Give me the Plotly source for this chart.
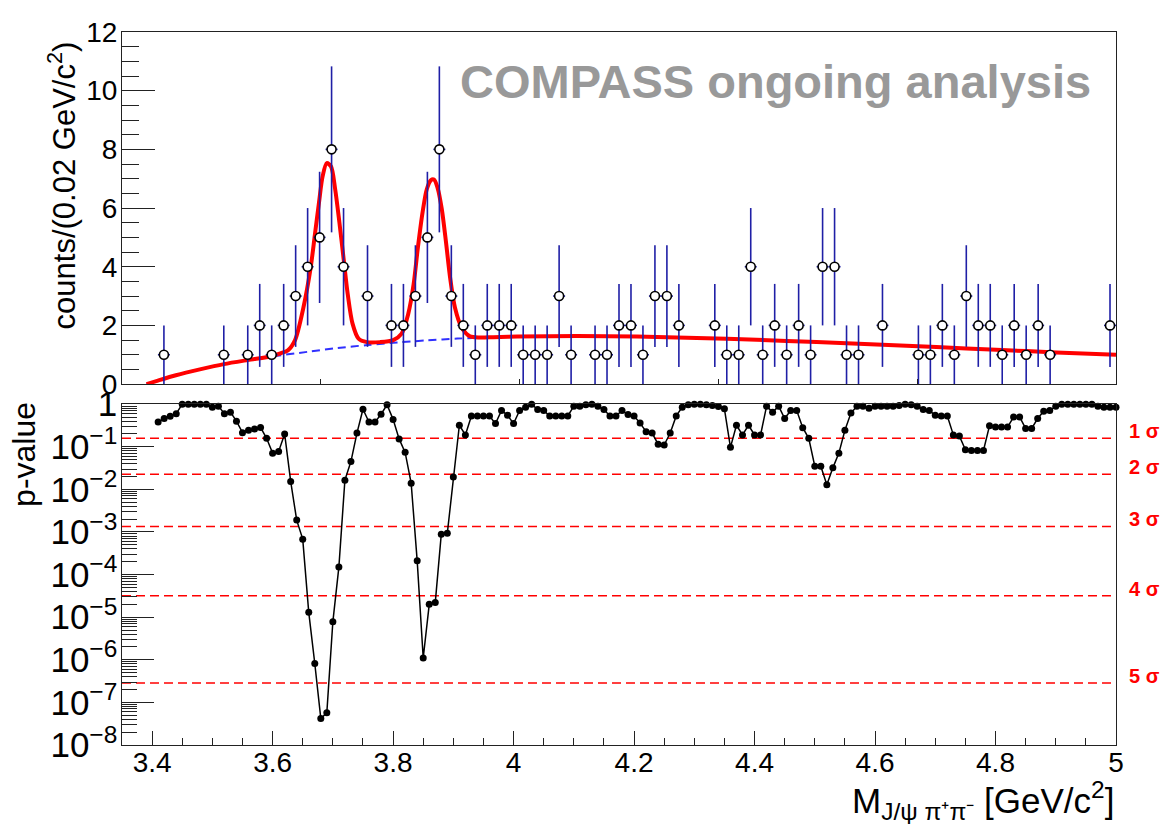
import numpy as np
import plotly.graph_objects as go

FONT = "Liberation Sans, Arial, Helvetica, sans-serif"

# ---------------- upper panel: J/psi pi+ pi- mass spectrum ----------------
# bin centres (0.02 GeV/c^2 bins, empty bins omitted) and event counts
mass_bins = [3.41, 3.51, 3.55, 3.57, 3.59, 3.61, 3.63, 3.65, 3.67, 3.69,
             3.71, 3.75, 3.79, 3.81, 3.83, 3.85, 3.87, 3.89, 3.91, 3.93,
             3.95, 3.97, 3.99, 4.01, 4.03, 4.05, 4.07, 4.09, 4.13, 4.15,
             4.17, 4.19, 4.21, 4.23, 4.25, 4.27, 4.33, 4.35, 4.37, 4.39,
             4.41, 4.43, 4.45, 4.47, 4.49, 4.51, 4.53, 4.55, 4.57, 4.61,
             4.67, 4.69, 4.71, 4.73, 4.75, 4.77, 4.79, 4.81, 4.83, 4.85,
             4.87, 4.89, 4.99]
counts = [1, 1, 1, 2, 1, 2, 3, 4, 5, 8,
          4, 3, 2, 2, 3, 5, 8, 3, 2, 1,
          2, 2, 2, 1, 1, 1, 3, 1, 1, 1,
          2, 2, 1, 3, 3, 2, 2, 1, 1, 4,
          1, 2, 1, 2, 1, 4, 4, 1, 1, 2,
          1, 1, 2, 1, 3, 2, 2, 1, 2, 1,
          2, 1, 2]
bin_half_width = 0.01

# full fit (background + two peaks)
fit_mass = [3.381, 3.40, 3.43, 3.47, 3.51, 3.55, 3.59, 3.605, 3.617, 3.629,
            3.643, 3.655, 3.662, 3.669, 3.675, 3.682, 3.689, 3.696, 3.703,
            3.710, 3.717, 3.725, 3.735, 3.749, 3.771, 3.793, 3.807, 3.818,
            3.827, 3.834, 3.842, 3.849, 3.856, 3.861, 3.867, 3.874, 3.881,
            3.888, 3.896, 3.907, 3.921, 3.938, 3.96, 4.0, 4.1, 4.2, 4.3,
            4.4, 4.5, 4.6, 4.7, 4.8, 4.9, 5.0]
fit_counts = [0.0, 0.12, 0.30, 0.50, 0.68, 0.82, 0.95, 1.05, 1.15, 1.50,
              2.61, 3.96, 5.07, 6.19, 7.08, 7.53, 7.42, 6.64, 5.52,
              4.29, 3.06, 2.06, 1.55, 1.43, 1.43, 1.50, 1.72, 2.39,
              3.40, 4.63, 5.86, 6.64, 6.95, 6.97, 6.69, 5.97, 4.85,
              3.62, 2.61, 1.94, 1.63, 1.59, 1.60, 1.62, 1.64, 1.62, 1.57,
              1.51, 1.43, 1.35, 1.26, 1.17, 1.08, 1.0]

# background component of the fit
bkg_mass = [3.381, 3.40, 3.43, 3.47, 3.51, 3.55, 3.59, 3.65, 3.70, 3.75,
            3.80, 3.85, 3.90, 3.95, 4.0, 4.1, 4.2, 4.3, 4.4, 4.5, 4.6,
            4.7, 4.8, 4.9, 5.0]
bkg_counts = [0.0, 0.12, 0.30, 0.50, 0.68, 0.82, 0.94, 1.10, 1.23, 1.33,
              1.42, 1.49, 1.55, 1.59, 1.62, 1.64, 1.62, 1.57, 1.51, 1.43,
              1.35, 1.26, 1.17, 1.08, 1.0]

# ---------------- lower panel: local p-value scan ----------------
scan_start, scan_step, n_scan = 3.41, 0.01, 160
scan_mass = np.round(scan_start + scan_step * np.arange(n_scan), 3)
p_values = [
    0.38, 0.46, 0.52, 0.60, 1.0, 1.0, 1.0, 1.0, 1.0, 0.85,
    0.90, 0.60, 0.65, 0.40, 0.215, 0.245, 0.26, 0.285, 0.158, 0.071,
    0.078, 0.20, 0.0154, 0.0019, 6.8e-4, 1.3e-5, 8.2e-7, 4.2e-8, 5.7e-8, 7.8e-6,
    1.5e-4, 0.0165, 0.045, 0.21, 0.76, 0.38, 0.38, 0.58, 0.97, 0.44,
    0.153, 0.074, 0.014, 2.1e-4, 1.1e-6, 2.0e-5, 2.2e-5, 8.9e-4, 9.3e-4, 0.0196,
    0.32, 0.19, 0.53, 0.53, 0.53, 0.53, 0.35, 0.71, 0.55, 0.35,
    0.71, 0.85, 1.0, 0.75, 0.71, 0.53, 0.53, 0.53, 0.53, 0.90,
    0.90, 0.97, 1.0, 0.90, 0.75, 0.53, 0.53, 0.71, 0.57, 0.53,
    0.36, 0.226, 0.21, 0.115, 0.11, 0.21, 0.53, 0.85, 0.97, 1.0,
    1.0, 0.97, 0.93, 0.88, 0.78, 0.097, 0.32, 0.19, 0.32, 0.19,
    0.19, 0.90, 0.65, 0.90, 0.46, 0.71, 0.71, 0.28, 0.158, 0.035,
    0.035, 0.0129, 0.032, 0.071, 0.245, 0.62, 0.90, 0.90, 0.80, 0.90,
    0.90, 0.90, 0.90, 0.93, 1.0, 0.97, 0.90, 0.75, 0.71, 0.55,
    0.53, 0.53, 0.19, 0.18, 0.085, 0.082, 0.082, 0.082, 0.31, 0.29,
    0.29, 0.29, 0.50, 0.50, 0.27, 0.27, 0.46, 0.68, 0.71, 0.90,
    1.0, 1.0, 1.0, 1.0, 1.0, 1.0, 0.90, 0.85, 0.85, 0.85,
]

# one-sided p-values of the significance levels
sigma_labels = ["1 σ", "2 σ", "3 σ", "4 σ", "5 σ"]
sigma_p = [0.158655, 0.0227501, 0.0013499, 3.16712e-5, 2.86652e-7]

top_range = [3.34, 5.0]
bottom_range = [3.35, 5.0]

fig = go.Figure()

# fit curves (drawn below the data markers)
fig.add_trace(go.Scatter(
    x=bkg_mass, y=bkg_counts, mode="lines", xaxis="x", yaxis="y",
    line=dict(color="#3030ff", width=2, dash="8px,5px", shape="spline", smoothing=0.8),
    hoverinfo="skip", showlegend=False))
fig.add_trace(go.Scatter(
    x=fit_mass, y=fit_counts, mode="lines", xaxis="x", yaxis="y",
    line=dict(color="#ff0000", width=4, shape="spline", smoothing=0.8),
    hoverinfo="skip", showlegend=False))

# data points with Poisson errors
fig.add_trace(go.Scatter(
    x=mass_bins, y=counts, mode="markers", xaxis="x", yaxis="y",
    marker=dict(symbol="circle", size=9, color="white",
                line=dict(color="black", width=1.6)),
    error_y=dict(type="data", array=np.sqrt(counts).tolist(),
                 color="#1f1fa6", thickness=1.6, width=0),
    error_x=dict(type="constant", value=bin_half_width,
                 color="#1f1fa6", thickness=1.6, width=0),
    cliponaxis=False, showlegend=False))

# significance reference lines
for p in sigma_p:
    fig.add_trace(go.Scatter(
        x=bottom_range, y=[p, p], mode="lines", xaxis="x2", yaxis="y2",
        line=dict(color="#ff0000", width=1.5, dash="9px,5px"),
        hoverinfo="skip", showlegend=False))

# p-value scan
fig.add_trace(go.Scatter(
    x=scan_mass, y=p_values, mode="lines+markers", xaxis="x2", yaxis="y2",
    line=dict(color="black", width=1.5),
    marker=dict(color="black", size=7),
    cliponaxis=False, showlegend=False))

axis_common = dict(showgrid=False, zeroline=False, showline=True, mirror=True,
                   linecolor="#222222", linewidth=1.2, ticks="inside",
                   tickcolor="#222222", tickfont=dict(family=FONT, size=28, color="black"))

top_ticks = [top_range[0] + (top_range[1] - top_range[0]) * k / 5 for k in range(1, 5)]

fig.update_layout(
    width=1165, height=824,
    margin=dict(l=122, r=49, t=20, b=79),
    paper_bgcolor="white", plot_bgcolor="white",
    font=dict(family=FONT, color="black"),
    xaxis=dict(axis_common, range=top_range, domain=[0, 1], anchor="y",
               tickvals=top_ticks, ticklen=5, showticklabels=False),
    yaxis=dict(axis_common, range=[0, 12], domain=[0.5062, 1.0], anchor="x",
               dtick=2, tick0=0, ticklen=33, ticklabelstandoff=-2,
               minor=dict(dtick=0.5, ticklen=17, ticks="inside", tickcolor="#222222")),
    xaxis2=dict(axis_common, range=bottom_range, domain=[0, 1], anchor="y2",
                dtick=0.2, tick0=3.4, ticklen=14, ticklabelstandoff=-8,
                minor=dict(dtick=0.05, tick0=3.4, ticklen=7, ticks="inside",
                           tickcolor="#222222")),
    yaxis2=dict(axis_common, type="log", range=[-8, 0], domain=[0, 0.478], anchor="x2",
                dtick=1, exponentformat="power", ticklen=32, ticklabelstandoff=-2,
                minor=dict(dtick="D1", ticklen=15, ticks="inside", tickcolor="#222222")),
)

annotations = [
    dict(text="<b>COMPASS ongoing analysis</b>", xref="paper", yref="paper",
         x=(775 - 122) / 994, y=(745 - 70) / 725, xanchor="center", yanchor="middle",
         showarrow=False, font=dict(family=FONT, size=47, color="#999999")),
    dict(text="counts/(0.02 GeV/c<sup>2</sup>)", xref="paper", yref="paper",
         x=(62 - 122) / 994, y=(745 - 176) / 725, xanchor="center", yanchor="middle",
         textangle=-90, showarrow=False, font=dict(family=FONT, size=31, color="black")),
    dict(text="p-value", xref="paper", yref="paper",
         x=(24 - 122) / 994, y=(745 - 450) / 725, xanchor="center", yanchor="middle",
         textangle=-90, showarrow=False, font=dict(family=FONT, size=32, color="black")),
    dict(text="M<sub>J/ψ π⁺π⁻</sub> [GeV/c<sup>2</sup>]", xref="paper", yref="paper",
         x=1.0, y=(745 - 801) / 725, xanchor="right", yanchor="middle",
         showarrow=False, font=dict(family=FONT, size=35, color="black")),
]
for lab, p in zip(sigma_labels, sigma_p):
    annotations.append(dict(
        text=f"<b>{lab}</b>", xref="paper", yref="y2", x=(1127 - 122) / 994,
        y=float(np.log10(p)), xanchor="left", yanchor="middle", yshift=7,
        showarrow=False, font=dict(family=FONT, size=20, color="#ff0000")))
fig.update_layout(annotations=annotations)

fig.write_html("out.html")
